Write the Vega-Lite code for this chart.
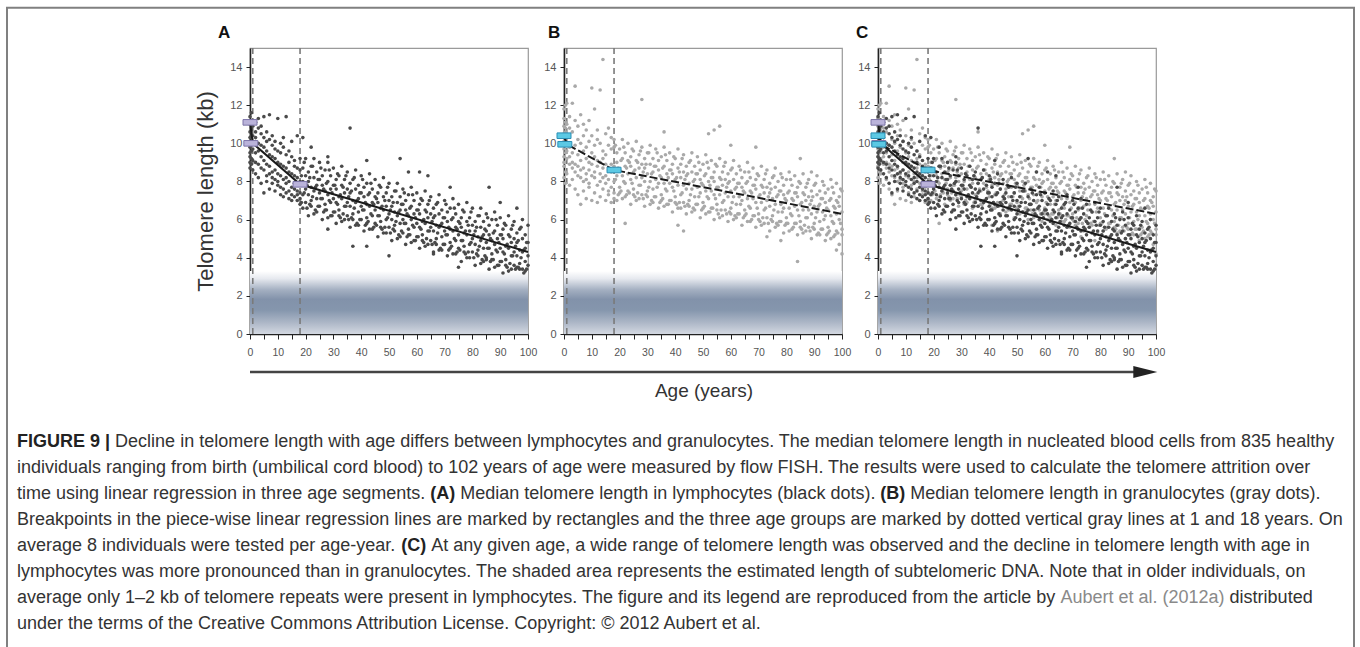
{
"$schema":"https://vega.github.io/schema/vega-lite/v6.json",
"background":"white",
"padding":{"left":6,"top":6,"right":0,"bottom":0},
"config":{"view":{"stroke":"#9a9a9a","strokeWidth":1.2},"font":"Liberation Sans","axis":{"grid":false,"domainColor":"#222","domainWidth":1.6,"tickColor":"#222","labelColor":"#555","labelFontSize":11,"titleFontWeight":"normal"}},
"datasets":{
"cuts":[{"a":1,"t":0,"t2":15},{"a":18,"t":0,"t2":15}],
"lymfit":[{"a":0,"t":11.1},{"a":1,"t":10.0},{"a":18,"t":7.85},{"a":100,"t":4.3}],
"grafit":[{"a":0,"t":10.4},{"a":1,"t":9.95},{"a":18,"t":8.6},{"a":100,"t":6.3}],
"lymbp":[{"a":0,"t":11.1},{"a":0.3,"t":10.0},{"a":18,"t":7.85}],
"grabp":[{"a":0,"t":10.4},{"a":0.3,"t":9.95},{"a":18,"t":8.6}],
"lym":[
{"a":0,"t":9.0},{"a":0,"t":9.5},{"a":0,"t":10.1},{"a":0,"t":10.6},{"a":0,"t":11.0},{"a":0,"t":9.8},{"a":0,"t":8.7},{"a":0,"t":10.3},{"a":0,"t":11.4},{"a":0,"t":9.3},
{"a":0.5,"t":10.8},{"a":0.5,"t":9.6},{"a":0.5,"t":10.4},{"a":0.5,"t":8.9},{"a":0.5,"t":11.2},{"a":0.5,"t":9.9},{"a":0.5,"t":10.0},{"a":0.5,"t":9.2},{"a":0.5,"t":10.7},{"a":0.5,"t":11.6},
{"a":1,"t":11.2},{"a":1,"t":9.1},{"a":1,"t":10.4},{"a":1,"t":8.6},{"a":1,"t":10.9},{"a":1,"t":9.7},
{"a":2,"t":11.1},{"a":2,"t":9.0},{"a":2,"t":10.3},{"a":2,"t":8.4},{"a":2,"t":10.6},{"a":2,"t":9.5},
{"a":3,"t":10.8},{"a":3,"t":8.9},{"a":3,"t":10.0},{"a":3,"t":8.2},{"a":3,"t":11.3},{"a":3,"t":9.6},
{"a":4,"t":10.5},{"a":4,"t":8.7},{"a":4,"t":9.9},{"a":4,"t":7.9},{"a":4,"t":10.9},{"a":4,"t":9.3},
{"a":5,"t":11.4},{"a":5,"t":8.6},{"a":5,"t":9.8},{"a":5,"t":7.4},{"a":5,"t":10.3},{"a":5,"t":9.1},
{"a":6,"t":10.6},{"a":6,"t":8.3},{"a":6,"t":9.6},{"a":6,"t":8.0},{"a":6,"t":10.1},{"a":6,"t":8.9},
{"a":7,"t":11.5},{"a":7,"t":8.4},{"a":7,"t":9.4},{"a":7,"t":7.6},{"a":7,"t":10.2},{"a":7,"t":8.8},
{"a":8,"t":10.4},{"a":8,"t":7.9},{"a":8,"t":9.3},{"a":8,"t":8.5},{"a":8,"t":9.9},{"a":8,"t":8.2},
{"a":9,"t":10.1},{"a":9,"t":8.1},{"a":9,"t":9.2},{"a":9,"t":7.5},{"a":9,"t":9.7},{"a":9,"t":8.6},
{"a":10,"t":11.3},{"a":10,"t":8.0},{"a":10,"t":9.0},{"a":10,"t":7.8},{"a":10,"t":9.6},{"a":10,"t":8.4},
{"a":11,"t":10.0},{"a":11,"t":7.7},{"a":11,"t":8.9},{"a":11,"t":8.3},{"a":11,"t":9.5},{"a":11,"t":7.3},
{"a":12,"t":9.8},{"a":12,"t":7.6},{"a":12,"t":8.8},{"a":12,"t":8.1},{"a":12,"t":10.3},{"a":12,"t":7.2},
{"a":13,"t":11.4},{"a":13,"t":7.4},{"a":13,"t":8.7},{"a":13,"t":7.9},{"a":13,"t":9.4},{"a":13,"t":8.2},
{"a":14,"t":9.6},{"a":14,"t":7.5},{"a":14,"t":8.5},{"a":14,"t":7.1},{"a":14,"t":9.0},{"a":14,"t":8.0},
{"a":15,"t":9.3},{"a":15,"t":7.3},{"a":15,"t":8.4},{"a":15,"t":7.7},{"a":15,"t":10.1},{"a":15,"t":7.0},
{"a":16,"t":9.1},{"a":16,"t":7.2},{"a":16,"t":8.3},{"a":16,"t":7.6},{"a":16,"t":8.8},{"a":16,"t":7.9},
{"a":17,"t":10.4},{"a":17,"t":7.0},{"a":17,"t":8.2},{"a":17,"t":7.5},{"a":17,"t":8.7},{"a":17,"t":7.3},
{"a":18,"t":9.2},{"a":18,"t":6.8},{"a":18,"t":8.0},{"a":18,"t":7.4},{"a":18,"t":8.6},{"a":18,"t":7.1},
{"a":19,"t":8.7},{"a":19,"t":7.3},{"a":19,"t":8.0},{"a":19,"t":6.6},{"a":19,"t":10.3},
{"a":20,"t":9.2},{"a":20,"t":7.6},{"a":20,"t":6.9},{"a":20,"t":8.3},
{"a":21,"t":8.0},{"a":21,"t":6.2},{"a":21,"t":8.5},{"a":21,"t":7.3},
{"a":22,"t":8.8},{"a":22,"t":7.0},{"a":22,"t":7.7},{"a":22,"t":6.7},{"a":22,"t":9.8},
{"a":23,"t":8.2},{"a":23,"t":6.3},{"a":23,"t":9.2},{"a":23,"t":7.5},
{"a":24,"t":8.5},{"a":24,"t":7.1},{"a":24,"t":7.8},{"a":24,"t":6.4},
{"a":25,"t":9.0},{"a":25,"t":7.4},{"a":25,"t":6.7},{"a":25,"t":8.1},
{"a":26,"t":7.8},{"a":26,"t":6.0},{"a":26,"t":8.3},{"a":26,"t":7.1},
{"a":27,"t":8.6},{"a":27,"t":6.8},{"a":27,"t":7.5},{"a":27,"t":6.5},
{"a":28,"t":8.0},{"a":28,"t":6.1},{"a":28,"t":9.0},{"a":28,"t":7.3},{"a":28,"t":9.3},{"a":28,"t":5.5},
{"a":29,"t":8.3},{"a":29,"t":6.9},{"a":29,"t":7.6},{"a":29,"t":6.2},
{"a":30,"t":8.7},{"a":30,"t":7.1},{"a":30,"t":6.4},{"a":30,"t":7.8},
{"a":31,"t":7.6},{"a":31,"t":5.8},{"a":31,"t":8.1},{"a":31,"t":6.9},
{"a":32,"t":8.3},{"a":32,"t":6.5},{"a":32,"t":7.2},{"a":32,"t":6.2},
{"a":33,"t":7.8},{"a":33,"t":5.9},{"a":33,"t":8.8},{"a":33,"t":7.1},
{"a":34,"t":8.1},{"a":34,"t":6.7},{"a":34,"t":7.4},{"a":34,"t":6.0},
{"a":35,"t":8.5},{"a":35,"t":6.9},{"a":35,"t":6.2},{"a":35,"t":7.6},
{"a":36,"t":7.4},{"a":36,"t":5.6},{"a":36,"t":7.9},{"a":36,"t":6.7},{"a":36,"t":10.8},
{"a":37,"t":8.1},{"a":37,"t":6.3},{"a":37,"t":7.0},{"a":37,"t":6.0},{"a":37,"t":4.6},
{"a":38,"t":7.6},{"a":38,"t":5.7},{"a":38,"t":8.6},{"a":38,"t":6.9},
{"a":39,"t":7.8},{"a":39,"t":6.4},{"a":39,"t":7.1},{"a":39,"t":5.7},
{"a":40,"t":8.3},{"a":40,"t":6.7},{"a":40,"t":6.0},{"a":40,"t":7.4},
{"a":41,"t":7.2},{"a":41,"t":5.4},{"a":41,"t":7.7},{"a":41,"t":6.5},
{"a":42,"t":7.9},{"a":42,"t":6.1},{"a":42,"t":6.8},{"a":42,"t":5.8},{"a":42,"t":9.1},{"a":42,"t":4.6},
{"a":43,"t":7.4},{"a":43,"t":5.5},{"a":43,"t":8.4},{"a":43,"t":6.7},
{"a":44,"t":7.6},{"a":44,"t":6.2},{"a":44,"t":6.9},{"a":44,"t":5.5},
{"a":45,"t":8.1},{"a":45,"t":6.5},{"a":45,"t":5.8},{"a":45,"t":7.2},
{"a":46,"t":6.9},{"a":46,"t":5.1},{"a":46,"t":7.4},{"a":46,"t":6.2},
{"a":47,"t":7.7},{"a":47,"t":5.9},{"a":47,"t":6.6},{"a":47,"t":5.6},
{"a":48,"t":7.2},{"a":48,"t":5.3},{"a":48,"t":8.2},{"a":48,"t":6.5},
{"a":49,"t":7.4},{"a":49,"t":6.0},{"a":49,"t":6.7},{"a":49,"t":5.3},
{"a":50,"t":7.9},{"a":50,"t":6.3},{"a":50,"t":5.6},{"a":50,"t":7.0},{"a":50,"t":4.1},
{"a":51,"t":6.7},{"a":51,"t":4.9},{"a":51,"t":7.2},{"a":51,"t":6.0},
{"a":52,"t":7.5},{"a":52,"t":5.7},{"a":52,"t":6.4},{"a":52,"t":5.4},
{"a":53,"t":6.9},{"a":53,"t":5.0},{"a":53,"t":7.9},{"a":53,"t":6.2},
{"a":54,"t":7.2},{"a":54,"t":5.8},{"a":54,"t":6.5},{"a":54,"t":5.1},{"a":54,"t":9.2},
{"a":55,"t":7.6},{"a":55,"t":6.0},{"a":55,"t":5.3},{"a":55,"t":6.8},
{"a":56,"t":6.5},{"a":56,"t":4.7},{"a":56,"t":7.0},{"a":56,"t":5.8},
{"a":57,"t":7.3},{"a":57,"t":5.5},{"a":57,"t":6.2},{"a":57,"t":5.2},{"a":57,"t":8.5},
{"a":58,"t":6.7},{"a":58,"t":4.8},{"a":58,"t":7.7},{"a":58,"t":6.0},
{"a":59,"t":7.0},{"a":59,"t":5.6},{"a":59,"t":6.3},{"a":59,"t":4.9},
{"a":60,"t":7.4},{"a":60,"t":5.8},{"a":60,"t":5.1},{"a":60,"t":6.5},
{"a":61,"t":6.3},{"a":61,"t":4.5},{"a":61,"t":6.8},{"a":61,"t":5.6},{"a":61,"t":8.5},
{"a":62,"t":7.0},{"a":62,"t":5.2},{"a":62,"t":5.9},{"a":62,"t":4.9},
{"a":63,"t":6.5},{"a":63,"t":4.6},{"a":63,"t":7.5},{"a":63,"t":5.8},
{"a":64,"t":6.8},{"a":64,"t":5.4},{"a":64,"t":6.1},{"a":64,"t":4.7},{"a":64,"t":8.3},
{"a":65,"t":7.2},{"a":65,"t":5.6},{"a":65,"t":4.9},{"a":65,"t":6.3},
{"a":66,"t":6.1},{"a":66,"t":4.3},{"a":66,"t":6.6},{"a":66,"t":5.4},{"a":66,"t":4.2},
{"a":67,"t":6.8},{"a":67,"t":5.0},{"a":67,"t":5.7},{"a":67,"t":4.7},
{"a":68,"t":6.3},{"a":68,"t":4.4},{"a":68,"t":7.3},{"a":68,"t":5.6},
{"a":69,"t":6.5},{"a":69,"t":5.1},{"a":69,"t":5.8},{"a":69,"t":4.4},
{"a":70,"t":7.0},{"a":70,"t":5.4},{"a":70,"t":4.7},{"a":70,"t":6.1},
{"a":71,"t":5.9},{"a":71,"t":4.1},{"a":71,"t":6.4},{"a":71,"t":5.2},
{"a":72,"t":6.6},{"a":72,"t":4.8},{"a":72,"t":5.5},{"a":72,"t":4.5},{"a":72,"t":7.7},
{"a":73,"t":6.1},{"a":73,"t":4.2},{"a":73,"t":7.1},{"a":73,"t":5.4},
{"a":74,"t":6.3},{"a":74,"t":4.9},{"a":74,"t":5.6},{"a":74,"t":4.2},
{"a":75,"t":6.8},{"a":75,"t":5.2},{"a":75,"t":4.5},{"a":75,"t":5.9},{"a":75,"t":3.5},
{"a":76,"t":5.6},{"a":76,"t":3.8},{"a":76,"t":6.1},{"a":76,"t":4.9},
{"a":77,"t":6.4},{"a":77,"t":4.6},{"a":77,"t":5.3},{"a":77,"t":4.3},
{"a":78,"t":5.9},{"a":78,"t":4.0},{"a":78,"t":6.9},{"a":78,"t":5.2},
{"a":79,"t":6.1},{"a":79,"t":4.7},{"a":79,"t":5.4},{"a":79,"t":4.0},
{"a":80,"t":6.6},{"a":80,"t":5.0},{"a":80,"t":4.3},{"a":80,"t":5.7},
{"a":81,"t":5.4},{"a":81,"t":3.6},{"a":81,"t":5.9},{"a":81,"t":4.7},
{"a":82,"t":6.2},{"a":82,"t":4.4},{"a":82,"t":5.1},{"a":82,"t":4.1},
{"a":83,"t":5.6},{"a":83,"t":3.7},{"a":83,"t":6.6},{"a":83,"t":4.9},
{"a":84,"t":5.9},{"a":84,"t":4.5},{"a":84,"t":5.2},{"a":84,"t":3.8},
{"a":85,"t":6.3},{"a":85,"t":4.8},{"a":85,"t":4.0},{"a":85,"t":5.4},{"a":85,"t":3.9},
{"a":86,"t":5.2},{"a":86,"t":3.4},{"a":86,"t":5.7},{"a":86,"t":4.5},{"a":86,"t":7.7},
{"a":87,"t":6.0},{"a":87,"t":4.2},{"a":87,"t":4.9},{"a":87,"t":3.9},
{"a":88,"t":5.4},{"a":88,"t":3.5},{"a":88,"t":6.4},{"a":88,"t":4.7},
{"a":89,"t":5.7},{"a":89,"t":4.3},{"a":89,"t":5.0},{"a":89,"t":3.6},
{"a":90,"t":6.1},{"a":90,"t":4.5},{"a":90,"t":3.8},{"a":90,"t":5.2},{"a":90,"t":6.9},
{"a":91,"t":5.0},{"a":91,"t":3.2},{"a":91,"t":5.5},{"a":91,"t":4.3},
{"a":92,"t":5.7},{"a":92,"t":3.9},{"a":92,"t":4.6},{"a":92,"t":3.6},
{"a":93,"t":5.2},{"a":93,"t":3.3},{"a":93,"t":6.2},{"a":93,"t":4.5},
{"a":94,"t":5.5},{"a":94,"t":4.1},{"a":94,"t":4.8},{"a":94,"t":3.4},
{"a":95,"t":5.9},{"a":95,"t":4.3},{"a":95,"t":3.6},{"a":95,"t":5.0},
{"a":96,"t":4.8},{"a":96,"t":3.5},{"a":96,"t":5.3},{"a":96,"t":4.1},{"a":96,"t":6.6},
{"a":97,"t":5.5},{"a":97,"t":3.7},{"a":97,"t":4.4},{"a":97,"t":3.4},
{"a":98,"t":5.0},{"a":98,"t":3.4},{"a":98,"t":6.0},{"a":98,"t":4.3},
{"a":99,"t":5.2},{"a":99,"t":3.8},{"a":99,"t":4.5},{"a":99,"t":3.3},
{"a":100,"t":5.7},{"a":100,"t":4.1},{"a":100,"t":3.6},{"a":100,"t":4.8},
{"a":18.5,"t":8.3},{"a":18.5,"t":6.9},{"a":19.5,"t":9.0},{"a":19.5,"t":7.4},{"a":20.5,"t":6.6},{"a":20.5,"t":7.8},{"a":21.5,"t":8.2},{"a":21.5,"t":6.8},{"a":22.5,"t":8.8},{"a":22.5,"t":7.2},
{"a":23.5,"t":6.5},{"a":23.5,"t":7.7},{"a":24.5,"t":8.1},{"a":24.5,"t":6.7},{"a":25.5,"t":8.7},{"a":25.5,"t":7.1},{"a":26.5,"t":6.4},{"a":26.5,"t":7.6},{"a":27.5,"t":7.9},{"a":27.5,"t":6.5},
{"a":28.5,"t":8.6},{"a":28.5,"t":7.0},{"a":29.5,"t":6.2},{"a":29.5,"t":7.4},{"a":30.5,"t":7.8},{"a":30.5,"t":6.4},{"a":31.5,"t":8.4},{"a":31.5,"t":6.8},{"a":32.5,"t":6.1},{"a":32.5,"t":7.3},
{"a":33.5,"t":7.7},{"a":33.5,"t":6.3},{"a":34.5,"t":8.3},{"a":34.5,"t":6.7},{"a":35.5,"t":6.0},{"a":35.5,"t":7.2},{"a":36.5,"t":7.5},{"a":36.5,"t":6.1},{"a":37.5,"t":8.2},{"a":37.5,"t":6.6},
{"a":38.5,"t":5.8},{"a":38.5,"t":7.0},{"a":39.5,"t":7.4},{"a":39.5,"t":6.0},{"a":40.5,"t":8.1},{"a":40.5,"t":6.5},{"a":41.5,"t":5.7},{"a":41.5,"t":6.9},{"a":42.5,"t":7.3},{"a":42.5,"t":5.9},
{"a":43.5,"t":7.9},{"a":43.5,"t":6.3},{"a":44.5,"t":5.6},{"a":44.5,"t":6.8},{"a":45.5,"t":7.1},{"a":45.5,"t":5.7},{"a":46.5,"t":7.8},{"a":46.5,"t":6.2},{"a":47.5,"t":5.5},{"a":47.5,"t":6.7},
{"a":48.5,"t":7.0},{"a":48.5,"t":5.6},{"a":49.5,"t":7.7},{"a":49.5,"t":6.1},{"a":50.5,"t":5.3},{"a":50.5,"t":6.5},{"a":51.5,"t":6.9},{"a":51.5,"t":5.5},{"a":52.5,"t":7.5},{"a":52.5,"t":5.9},
{"a":53.5,"t":5.2},{"a":53.5,"t":6.4},{"a":54.5,"t":6.8},{"a":54.5,"t":5.4},{"a":55.5,"t":7.4},{"a":55.5,"t":5.8},{"a":56.5,"t":5.1},{"a":56.5,"t":6.3},{"a":57.5,"t":6.6},{"a":57.5,"t":5.2},
{"a":58.5,"t":7.3},{"a":58.5,"t":5.7},{"a":59.5,"t":4.9},{"a":59.5,"t":6.1},{"a":60.5,"t":6.5},{"a":60.5,"t":5.1},{"a":61.5,"t":7.1},{"a":61.5,"t":5.5},{"a":62.5,"t":4.8},{"a":62.5,"t":6.0},
{"a":63.5,"t":6.4},{"a":63.5,"t":5.0},{"a":64.5,"t":7.0},{"a":64.5,"t":5.4},{"a":65.5,"t":4.7},{"a":65.5,"t":5.9},{"a":66.5,"t":6.2},{"a":66.5,"t":4.8},{"a":67.5,"t":6.9},{"a":67.5,"t":5.3},
{"a":68.5,"t":4.5},{"a":68.5,"t":5.7},{"a":69.5,"t":6.1},{"a":69.5,"t":4.7},{"a":70.5,"t":6.8},{"a":70.5,"t":5.2},{"a":71.5,"t":4.4},{"a":71.5,"t":5.6},{"a":72.5,"t":6.0},{"a":72.5,"t":4.6},
{"a":73.5,"t":6.6},{"a":73.5,"t":5.0},{"a":74.5,"t":4.3},{"a":74.5,"t":5.5},{"a":75.5,"t":5.8},{"a":75.5,"t":4.4},{"a":76.5,"t":6.5},{"a":76.5,"t":4.9},{"a":77.5,"t":4.2},{"a":77.5,"t":5.4},
{"a":78.5,"t":5.7},{"a":78.5,"t":4.3},{"a":79.5,"t":6.4},{"a":79.5,"t":4.8},{"a":80.5,"t":4.0},{"a":80.5,"t":5.2},{"a":81.5,"t":5.6},{"a":81.5,"t":4.2},{"a":82.5,"t":6.2},{"a":82.5,"t":4.6},
{"a":83.5,"t":3.9},{"a":83.5,"t":5.1},{"a":84.5,"t":5.5},{"a":84.5,"t":4.1},{"a":85.5,"t":6.1},{"a":85.5,"t":4.5},{"a":86.5,"t":3.8},{"a":86.5,"t":5.0},{"a":87.5,"t":5.3},{"a":87.5,"t":3.9},
{"a":88.5,"t":6.0},{"a":88.5,"t":4.4},{"a":89.5,"t":3.6},{"a":89.5,"t":4.8},{"a":90.5,"t":5.2},{"a":90.5,"t":3.8},{"a":91.5,"t":5.8},{"a":91.5,"t":4.2},{"a":92.5,"t":3.5},{"a":92.5,"t":4.7},
{"a":93.5,"t":5.1},{"a":93.5,"t":3.7},{"a":94.5,"t":5.7},{"a":94.5,"t":4.1},{"a":95.5,"t":3.4},{"a":95.5,"t":4.6},{"a":96.5,"t":4.9},{"a":96.5,"t":3.5},{"a":97.5,"t":5.6},{"a":97.5,"t":4.0},
{"a":98.5,"t":3.2},{"a":98.5,"t":4.4},{"a":99.5,"t":4.8},{"a":99.5,"t":3.4}
],
"gra":[
{"a":0,"t":8.2},{"a":0,"t":8.8},{"a":0,"t":9.3},{"a":0,"t":9.7},{"a":0,"t":10.1},{"a":0,"t":10.5},{"a":0,"t":10.9},{"a":0,"t":11.3},{"a":0,"t":11.8},{"a":0,"t":9.0},
{"a":0.5,"t":9.5},{"a":0.5,"t":10.0},{"a":0.5,"t":10.3},{"a":0.5,"t":10.8},{"a":0.5,"t":12.0},{"a":0.5,"t":8.5},{"a":0.5,"t":9.9},{"a":0.5,"t":10.6},{"a":0.5,"t":11.1},{"a":0.5,"t":7.9},
{"a":1,"t":11.0},{"a":1,"t":9.2},{"a":1,"t":10.3},{"a":1,"t":8.4},{"a":1,"t":12.1},{"a":1,"t":9.6},
{"a":2,"t":10.8},{"a":2,"t":8.9},{"a":2,"t":9.8},{"a":2,"t":7.8},{"a":2,"t":11.4},{"a":2,"t":9.3},
{"a":3,"t":12.1},{"a":3,"t":8.7},{"a":3,"t":9.5},{"a":3,"t":8.1},{"a":3,"t":10.6},{"a":3,"t":9.0},
{"a":4,"t":13.0},{"a":4,"t":8.5},{"a":4,"t":9.9},{"a":4,"t":7.6},{"a":4,"t":11.2},{"a":4,"t":8.9},
{"a":5,"t":10.9},{"a":5,"t":8.3},{"a":5,"t":9.4},{"a":5,"t":7.3},{"a":5,"t":10.2},{"a":5,"t":8.8},
{"a":6,"t":11.5},{"a":6,"t":8.6},{"a":6,"t":9.1},{"a":6,"t":6.8},{"a":6,"t":10.0},{"a":6,"t":8.2},
{"a":7,"t":10.4},{"a":7,"t":8.0},{"a":7,"t":9.6},{"a":7,"t":7.5},{"a":7,"t":11.0},{"a":7,"t":8.7},
{"a":8,"t":10.7},{"a":8,"t":8.4},{"a":8,"t":9.2},{"a":8,"t":7.1},{"a":8,"t":9.8},{"a":8,"t":8.1},
{"a":9,"t":11.2},{"a":9,"t":7.9},{"a":9,"t":9.0},{"a":9,"t":7.7},{"a":9,"t":10.1},{"a":9,"t":8.6},
{"a":10,"t":12.9},{"a":10,"t":7.0},{"a":10,"t":8.9},{"a":10,"t":8.3},{"a":10,"t":10.4},{"a":10,"t":9.5},
{"a":11,"t":11.8},{"a":11,"t":8.2},{"a":11,"t":9.3},{"a":11,"t":7.4},{"a":11,"t":9.9},{"a":11,"t":8.5},
{"a":12,"t":10.2},{"a":12,"t":7.8},{"a":12,"t":8.8},{"a":12,"t":6.9},{"a":12,"t":10.7},{"a":12,"t":9.1},
{"a":13,"t":12.8},{"a":13,"t":8.0},{"a":13,"t":9.0},{"a":13,"t":7.2},{"a":13,"t":10.0},{"a":13,"t":8.4},
{"a":14,"t":14.4},{"a":14,"t":7.6},{"a":14,"t":8.7},{"a":14,"t":8.2},{"a":14,"t":9.6},{"a":14,"t":9.2},
{"a":15,"t":10.5},{"a":15,"t":7.9},{"a":15,"t":8.9},{"a":15,"t":7.0},{"a":15,"t":9.4},{"a":15,"t":8.3},
{"a":16,"t":9.9},{"a":16,"t":7.5},{"a":16,"t":8.6},{"a":16,"t":8.1},{"a":16,"t":10.8},{"a":16,"t":7.3},
{"a":17,"t":10.3},{"a":17,"t":7.7},{"a":17,"t":8.5},{"a":17,"t":6.9},{"a":17,"t":9.7},{"a":17,"t":8.9},
{"a":18,"t":9.8},{"a":18,"t":7.4},{"a":18,"t":8.8},{"a":18,"t":8.0},{"a":18,"t":10.2},{"a":18,"t":7.1},
{"a":19,"t":9.0},{"a":19,"t":7.0},{"a":19,"t":9.5},{"a":19,"t":8.3},
{"a":20,"t":9.7},{"a":20,"t":7.7},{"a":20,"t":8.6},{"a":20,"t":7.4},
{"a":21,"t":9.2},{"a":21,"t":7.1},{"a":21,"t":10.2},{"a":21,"t":8.3},
{"a":22,"t":9.5},{"a":22,"t":7.9},{"a":22,"t":8.8},{"a":22,"t":7.2},{"a":22,"t":5.8},
{"a":23,"t":10.0},{"a":23,"t":8.4},{"a":23,"t":7.5},{"a":23,"t":9.1},
{"a":24,"t":8.8},{"a":24,"t":6.8},{"a":24,"t":9.3},{"a":24,"t":8.1},
{"a":25,"t":9.6},{"a":25,"t":7.6},{"a":25,"t":8.5},{"a":25,"t":7.3},
{"a":26,"t":9.1},{"a":26,"t":7.0},{"a":26,"t":10.1},{"a":26,"t":8.2},
{"a":27,"t":9.4},{"a":27,"t":7.8},{"a":27,"t":8.7},{"a":27,"t":7.1},
{"a":28,"t":9.8},{"a":28,"t":8.2},{"a":28,"t":7.3},{"a":28,"t":8.9},{"a":28,"t":12.3},
{"a":29,"t":8.7},{"a":29,"t":6.7},{"a":29,"t":9.2},{"a":29,"t":8.0},
{"a":30,"t":9.5},{"a":30,"t":7.5},{"a":30,"t":8.4},{"a":30,"t":7.2},
{"a":31,"t":8.9},{"a":31,"t":6.8},{"a":31,"t":9.9},{"a":31,"t":8.0},
{"a":32,"t":9.2},{"a":32,"t":7.6},{"a":32,"t":8.5},{"a":32,"t":6.9},
{"a":33,"t":9.7},{"a":33,"t":8.1},{"a":33,"t":7.2},{"a":33,"t":8.8},
{"a":34,"t":8.6},{"a":34,"t":6.6},{"a":34,"t":9.1},{"a":34,"t":7.9},
{"a":35,"t":9.3},{"a":35,"t":7.3},{"a":35,"t":8.2},{"a":35,"t":7.0},
{"a":36,"t":8.8},{"a":36,"t":6.7},{"a":36,"t":9.8},{"a":36,"t":7.9},{"a":36,"t":10.6},
{"a":37,"t":9.1},{"a":37,"t":7.5},{"a":37,"t":8.4},{"a":37,"t":6.8},
{"a":38,"t":9.5},{"a":38,"t":7.9},{"a":38,"t":7.0},{"a":38,"t":8.6},
{"a":39,"t":8.4},{"a":39,"t":6.4},{"a":39,"t":8.9},{"a":39,"t":7.7},
{"a":40,"t":9.2},{"a":40,"t":7.2},{"a":40,"t":8.1},{"a":40,"t":6.9},
{"a":41,"t":8.7},{"a":41,"t":6.6},{"a":41,"t":9.7},{"a":41,"t":7.8},{"a":41,"t":5.7},
{"a":42,"t":8.9},{"a":42,"t":7.3},{"a":42,"t":8.2},{"a":42,"t":6.6},
{"a":43,"t":9.4},{"a":43,"t":7.8},{"a":43,"t":6.9},{"a":43,"t":8.5},{"a":43,"t":5.4},
{"a":44,"t":8.3},{"a":44,"t":6.3},{"a":44,"t":8.8},{"a":44,"t":7.6},
{"a":45,"t":9.0},{"a":45,"t":7.0},{"a":45,"t":7.9},{"a":45,"t":6.7},
{"a":46,"t":8.5},{"a":46,"t":6.4},{"a":46,"t":9.5},{"a":46,"t":7.6},
{"a":47,"t":8.8},{"a":47,"t":7.2},{"a":47,"t":8.1},{"a":47,"t":6.5},
{"a":48,"t":9.3},{"a":48,"t":7.7},{"a":48,"t":6.8},{"a":48,"t":8.4},
{"a":49,"t":8.1},{"a":49,"t":6.1},{"a":49,"t":8.6},{"a":49,"t":7.4},
{"a":50,"t":8.9},{"a":50,"t":6.9},{"a":50,"t":7.8},{"a":50,"t":6.6},
{"a":51,"t":8.4},{"a":51,"t":6.3},{"a":51,"t":9.4},{"a":51,"t":7.5},
{"a":52,"t":8.7},{"a":52,"t":7.1},{"a":52,"t":8.0},{"a":52,"t":6.4},{"a":52,"t":10.5},
{"a":53,"t":9.1},{"a":53,"t":7.5},{"a":53,"t":6.6},{"a":53,"t":8.2},
{"a":54,"t":8.0},{"a":54,"t":6.0},{"a":54,"t":8.5},{"a":54,"t":7.3},{"a":54,"t":10.7},
{"a":55,"t":8.8},{"a":55,"t":6.8},{"a":55,"t":7.7},{"a":55,"t":6.5},
{"a":56,"t":8.2},{"a":56,"t":6.1},{"a":56,"t":9.2},{"a":56,"t":7.3},{"a":56,"t":10.9},
{"a":57,"t":8.5},{"a":57,"t":6.9},{"a":57,"t":7.8},{"a":57,"t":6.2},
{"a":58,"t":9.0},{"a":58,"t":7.4},{"a":58,"t":6.5},{"a":58,"t":8.1},
{"a":59,"t":7.9},{"a":59,"t":5.9},{"a":59,"t":8.4},{"a":59,"t":7.2},
{"a":60,"t":8.6},{"a":60,"t":6.6},{"a":60,"t":7.5},{"a":60,"t":6.3},{"a":60,"t":9.9},
{"a":61,"t":8.1},{"a":61,"t":6.0},{"a":61,"t":9.1},{"a":61,"t":7.2},
{"a":62,"t":8.4},{"a":62,"t":6.8},{"a":62,"t":7.7},{"a":62,"t":6.1},
{"a":63,"t":8.8},{"a":63,"t":7.2},{"a":63,"t":6.3},{"a":63,"t":7.9},
{"a":64,"t":7.7},{"a":64,"t":5.7},{"a":64,"t":8.2},{"a":64,"t":7.0},
{"a":65,"t":8.5},{"a":65,"t":6.5},{"a":65,"t":7.4},{"a":65,"t":6.2},
{"a":66,"t":8.0},{"a":66,"t":5.9},{"a":66,"t":9.0},{"a":66,"t":7.1},
{"a":67,"t":8.2},{"a":67,"t":6.6},{"a":67,"t":7.5},{"a":67,"t":5.9},
{"a":68,"t":8.7},{"a":68,"t":7.1},{"a":68,"t":6.2},{"a":68,"t":7.8},
{"a":69,"t":7.6},{"a":69,"t":5.6},{"a":69,"t":8.1},{"a":69,"t":6.9},{"a":69,"t":9.8},
{"a":70,"t":8.3},{"a":70,"t":6.3},{"a":70,"t":7.2},{"a":70,"t":6.0},
{"a":71,"t":7.8},{"a":71,"t":5.7},{"a":71,"t":8.8},{"a":71,"t":6.9},
{"a":72,"t":8.1},{"a":72,"t":6.5},{"a":72,"t":7.4},{"a":72,"t":5.8},
{"a":73,"t":8.6},{"a":73,"t":7.0},{"a":73,"t":6.1},{"a":73,"t":7.7},{"a":73,"t":5.1},
{"a":74,"t":7.4},{"a":74,"t":5.4},{"a":74,"t":7.9},{"a":74,"t":6.7},
{"a":75,"t":8.2},{"a":75,"t":6.2},{"a":75,"t":7.1},{"a":75,"t":5.9},
{"a":76,"t":7.7},{"a":76,"t":5.6},{"a":76,"t":8.7},{"a":76,"t":6.8},
{"a":77,"t":8.0},{"a":77,"t":6.4},{"a":77,"t":7.3},{"a":77,"t":5.7},
{"a":78,"t":8.4},{"a":78,"t":6.8},{"a":78,"t":5.9},{"a":78,"t":7.5},{"a":78,"t":4.9},
{"a":79,"t":7.3},{"a":79,"t":5.3},{"a":79,"t":7.8},{"a":79,"t":6.6},
{"a":80,"t":8.1},{"a":80,"t":6.1},{"a":80,"t":7.0},{"a":80,"t":5.8},
{"a":81,"t":7.5},{"a":81,"t":5.4},{"a":81,"t":8.5},{"a":81,"t":6.6},
{"a":82,"t":7.8},{"a":82,"t":6.2},{"a":82,"t":7.1},{"a":82,"t":5.5},
{"a":83,"t":8.3},{"a":83,"t":6.7},{"a":83,"t":5.8},{"a":83,"t":7.4},
{"a":84,"t":7.2},{"a":84,"t":5.2},{"a":84,"t":7.7},{"a":84,"t":6.5},{"a":84,"t":3.8},
{"a":85,"t":7.9},{"a":85,"t":5.9},{"a":85,"t":6.8},{"a":85,"t":5.6},{"a":85,"t":9.2},
{"a":86,"t":7.4},{"a":86,"t":5.3},{"a":86,"t":8.4},{"a":86,"t":6.5},
{"a":87,"t":7.7},{"a":87,"t":6.1},{"a":87,"t":7.0},{"a":87,"t":5.4},
{"a":88,"t":8.1},{"a":88,"t":6.5},{"a":88,"t":5.6},{"a":88,"t":7.2},
{"a":89,"t":7.0},{"a":89,"t":5.0},{"a":89,"t":7.5},{"a":89,"t":6.3},{"a":89,"t":8.5},
{"a":90,"t":7.8},{"a":90,"t":5.8},{"a":90,"t":6.7},{"a":90,"t":5.5},
{"a":91,"t":7.3},{"a":91,"t":5.2},{"a":91,"t":8.3},{"a":91,"t":6.4},
{"a":92,"t":7.5},{"a":92,"t":5.9},{"a":92,"t":6.8},{"a":92,"t":5.2},
{"a":93,"t":8.0},{"a":93,"t":6.4},{"a":93,"t":5.5},{"a":93,"t":7.1},
{"a":94,"t":6.9},{"a":94,"t":4.9},{"a":94,"t":7.4},{"a":94,"t":6.2},
{"a":95,"t":7.6},{"a":95,"t":5.6},{"a":95,"t":6.5},{"a":95,"t":5.3},
{"a":96,"t":7.1},{"a":96,"t":5.0},{"a":96,"t":8.1},{"a":96,"t":6.2},
{"a":97,"t":7.4},{"a":97,"t":5.8},{"a":97,"t":6.7},{"a":97,"t":5.1},
{"a":98,"t":7.9},{"a":98,"t":6.3},{"a":98,"t":5.4},{"a":98,"t":7.0},{"a":98,"t":4.4},
{"a":99,"t":6.7},{"a":99,"t":4.7},{"a":99,"t":7.2},{"a":99,"t":6.0},
{"a":100,"t":7.5},{"a":100,"t":5.5},{"a":100,"t":6.4},{"a":100,"t":5.2},{"a":100,"t":4.2},
{"a":18.5,"t":9.9},{"a":18.5,"t":8.1},{"a":19.5,"t":7.3},{"a":19.5,"t":8.7},{"a":20.5,"t":9.1},{"a":20.5,"t":7.5},{"a":21.5,"t":9.8},{"a":21.5,"t":8.0},{"a":22.5,"t":7.3},{"a":22.5,"t":8.7},
{"a":23.5,"t":9.0},{"a":23.5,"t":7.4},{"a":24.5,"t":9.7},{"a":24.5,"t":7.9},{"a":25.5,"t":7.2},{"a":25.5,"t":8.6},{"a":26.5,"t":9.0},{"a":26.5,"t":7.4},{"a":27.5,"t":9.6},{"a":27.5,"t":7.8},
{"a":28.5,"t":7.1},{"a":28.5,"t":8.5},{"a":29.5,"t":8.9},{"a":29.5,"t":7.3},{"a":30.5,"t":9.5},{"a":30.5,"t":7.7},{"a":31.5,"t":7.0},{"a":31.5,"t":8.4},{"a":32.5,"t":8.8},{"a":32.5,"t":7.2},
{"a":33.5,"t":9.5},{"a":33.5,"t":7.7},{"a":34.5,"t":6.9},{"a":34.5,"t":8.3},{"a":35.5,"t":8.7},{"a":35.5,"t":7.1},{"a":36.5,"t":9.4},{"a":36.5,"t":7.6},{"a":37.5,"t":6.8},{"a":37.5,"t":8.2},
{"a":38.5,"t":8.6},{"a":38.5,"t":7.0},{"a":39.5,"t":9.3},{"a":39.5,"t":7.5},{"a":40.5,"t":6.8},{"a":40.5,"t":8.2},{"a":41.5,"t":8.5},{"a":41.5,"t":6.9},{"a":42.5,"t":9.2},{"a":42.5,"t":7.4},
{"a":43.5,"t":6.7},{"a":43.5,"t":8.1},{"a":44.5,"t":8.4},{"a":44.5,"t":6.8},{"a":45.5,"t":9.1},{"a":45.5,"t":7.3},{"a":46.5,"t":6.6},{"a":46.5,"t":8.0},{"a":47.5,"t":8.4},{"a":47.5,"t":6.8},
{"a":48.5,"t":9.0},{"a":48.5,"t":7.2},{"a":49.5,"t":6.5},{"a":49.5,"t":7.9},{"a":50.5,"t":8.3},{"a":50.5,"t":6.7},{"a":51.5,"t":9.0},{"a":51.5,"t":7.2},{"a":52.5,"t":6.4},{"a":52.5,"t":7.8},
{"a":53.5,"t":8.2},{"a":53.5,"t":6.6},{"a":54.5,"t":8.9},{"a":54.5,"t":7.1},{"a":55.5,"t":6.3},{"a":55.5,"t":7.7},{"a":56.5,"t":8.1},{"a":56.5,"t":6.5},{"a":57.5,"t":8.8},{"a":57.5,"t":7.0},
{"a":58.5,"t":6.3},{"a":58.5,"t":7.7},{"a":59.5,"t":8.0},{"a":59.5,"t":6.4},{"a":60.5,"t":8.7},{"a":60.5,"t":6.9},{"a":61.5,"t":6.2},{"a":61.5,"t":7.6},{"a":62.5,"t":7.9},{"a":62.5,"t":6.3},
{"a":63.5,"t":8.6},{"a":63.5,"t":6.8},{"a":64.5,"t":6.1},{"a":64.5,"t":7.5},{"a":65.5,"t":7.9},{"a":65.5,"t":6.3},{"a":66.5,"t":8.5},{"a":66.5,"t":6.7},{"a":67.5,"t":6.0},{"a":67.5,"t":7.4},
{"a":68.5,"t":7.8},{"a":68.5,"t":6.2},{"a":69.5,"t":8.4},{"a":69.5,"t":6.6},{"a":70.5,"t":5.9},{"a":70.5,"t":7.3},{"a":71.5,"t":7.7},{"a":71.5,"t":6.1},{"a":72.5,"t":8.4},{"a":72.5,"t":6.6},
{"a":73.5,"t":5.8},{"a":73.5,"t":7.2},{"a":74.5,"t":7.6},{"a":74.5,"t":6.0},{"a":75.5,"t":8.3},{"a":75.5,"t":6.5},{"a":76.5,"t":5.8},{"a":76.5,"t":7.2},{"a":77.5,"t":7.5},{"a":77.5,"t":5.9},
{"a":78.5,"t":8.2},{"a":78.5,"t":6.4},{"a":79.5,"t":5.7},{"a":79.5,"t":7.1},{"a":80.5,"t":7.4},{"a":80.5,"t":5.8},{"a":81.5,"t":8.1},{"a":81.5,"t":6.3},{"a":82.5,"t":5.6},{"a":82.5,"t":7.0},
{"a":83.5,"t":7.4},{"a":83.5,"t":5.8},{"a":84.5,"t":8.0},{"a":84.5,"t":6.2},{"a":85.5,"t":5.5},{"a":85.5,"t":6.9},{"a":86.5,"t":7.3},{"a":86.5,"t":5.7},{"a":87.5,"t":7.9},{"a":87.5,"t":6.1},
{"a":88.5,"t":5.4},{"a":88.5,"t":6.8},{"a":89.5,"t":7.2},{"a":89.5,"t":5.6},{"a":90.5,"t":7.9},{"a":90.5,"t":6.1},{"a":91.5,"t":5.3},{"a":91.5,"t":6.7},{"a":92.5,"t":7.1},{"a":92.5,"t":5.5},
{"a":93.5,"t":7.8},{"a":93.5,"t":6.0},{"a":94.5,"t":5.2},{"a":94.5,"t":6.6},{"a":95.5,"t":7.0},{"a":95.5,"t":5.4},{"a":96.5,"t":7.7},{"a":96.5,"t":5.9},{"a":97.5,"t":5.2},{"a":97.5,"t":6.6},
{"a":98.5,"t":6.9},{"a":98.5,"t":5.3},{"a":99.5,"t":7.6},{"a":99.5,"t":5.8}
],
"caption":[
{"line":1,"x":10,"k":"b","s":"FIGURE 9 |"},
{"line":1,"x":108.1,"k":"n","s":"Decline in telomere length with age differs between lymphocytes and granulocytes. The median telomere length in nucleated blood cells from 835 healthy"},
{"line":2,"x":10,"k":"n","s":"individuals ranging from birth (umbilical cord blood) to 102 years of age were measured by flow FISH. The results were used to calculate the telomere attrition over"},
{"line":3,"x":10,"k":"n","s":"time using linear regression in three age segments."},
{"line":3,"x":423.2,"k":"b","s":"(A)"},
{"line":3,"x":453.2,"k":"n","s":"Median telomere length in lymphocytes (black dots)."},
{"line":3,"x":873.3,"k":"b","s":"(B)"},
{"line":3,"x":903.3,"k":"n","s":"Median telomere length in granulocytes (gray dots)."},
{"line":4,"x":10,"k":"n","s":"Breakpoints in the piece-wise linear regression lines are marked by rectangles and the three age groups are marked by dotted vertical gray lines at 1 and 18 years. On"},
{"line":5,"x":10,"k":"n","s":"average 8 individuals were tested per age-year."},
{"line":5,"x":394.2,"k":"b","s":"(C)"},
{"line":5,"x":424.2,"k":"n","s":"At any given age, a wide range of telomere length was observed and the decline in telomere length with age in"},
{"line":6,"x":10,"k":"n","s":"lymphocytes was more pronounced than in granulocytes. The shaded area represents the estimated length of subtelomeric DNA. Note that in older individuals, on"},
{"line":7,"x":10,"k":"n","s":"average only 1–2 kb of telomere repeats were present in lymphocytes. The figure and its legend are reproduced from the article by"},
{"line":7,"x":1053.5,"k":"g","s":"Aubert et al. (2012a)"},
{"line":7,"x":1222.6,"k":"n","s":"distributed"},
{"line":8,"x":10,"k":"n","s":"under the terms of the Creative Commons Attribution License. Copyright: © 2012 Aubert et al."}
]
},
"bounds":"flush",
"spacing":321,
"vconcat":[
 {"bounds":"flush","spacing":36,"hconcat":[
  {"width":207,"height":286,"view":{"stroke":null},"data":{"values":[]},"mark":"point","encoding":{}},
  {"width":278,"height":286,
   "title":{"text":"A","anchor":"start","frame":"group","dx":-32,"offset":5,"fontSize":17,"fontWeight":"bold","color":"#111"},
   "encoding":{
    "x":{"field":"a","type":"quantitative","scale":{"domain":[0,100],"nice":false},"title":null,"axis":{"values":[0,5,10,15,20,25,30,35,40,45,50,55,60,65,70,75,80,85,90,95,100],"labelExpr":"datum.value % 10 == 0 ? datum.label : ''","labelFlush":false,"tickSize":5,"labelPadding":8,"labelFontSize":10.5}},
    "y":{"field":"t","type":"quantitative","scale":{"domain":[0,15],"nice":false},"title":"Telomere length (kb)","axis":{"values":[0,2,4,6,8,10,12,14],"labelFlush":false,"tickSize":4,"labelPadding":4,"titleFontSize":22,"titleColor":"#333","titlePadding":12}}
   },
   "layer":[
    {"data":{"values":[{"a":0,"a2":100,"t":0,"t2":3.3}]},"mark":{"type":"rect","fill":{"gradient":"linear","x1":0,"y1":0,"x2":0,"y2":1,"stops":[{"offset":0,"color":"#ffffff"},{"offset":0.12,"color":"#e6e9ef"},{"offset":0.3,"color":"#a3afc1"},{"offset":0.45,"color":"#8292aa"},{"offset":0.62,"color":"#8596ad"},{"offset":0.82,"color":"#adb7c7"},{"offset":1,"color":"#d3d8e1"}]}},"encoding":{"x2":{"field":"a2"},"y2":{"field":"t2"}}},
    {"data":{"name":"cuts"},"mark":{"type":"rule","color":"#7a7a7a","strokeWidth":1.6,"strokeDash":[6,4]},"encoding":{"y2":{"field":"t2"}}},
    {"data":{"name":"lym"},"mark":{"type":"circle","size":13,"color":"#4a4a4a","opacity":1}},
    {"data":{"name":"lymfit"},"mark":{"type":"line","color":"#1a1a1a","strokeWidth":2}},
    {"data":{"name":"lymbp"},"mark":{"type":"point","shape":"M-1,-0.4L1,-0.4L1,0.4L-1,0.4Z","size":196,"filled":true,"fill":"#bab3da","stroke":"#7d75a8","strokeWidth":1,"opacity":1}},
    {"data":{"values":[{"s":"n=835"}]},"mark":{"type":"text","align":"right","fontSize":18,"color":"#333"},"encoding":{"x":{"datum":97},"y":{"datum":14.1},"text":{"field":"s"}}}
   ]},
  {"width":278,"height":286,
   "title":{"text":"B","anchor":"start","frame":"group","dx":-16,"offset":5,"fontSize":17,"fontWeight":"bold","color":"#111"},
   "encoding":{
    "x":{"field":"a","type":"quantitative","scale":{"domain":[0,100],"nice":false},"title":null,"axis":{"values":[0,5,10,15,20,25,30,35,40,45,50,55,60,65,70,75,80,85,90,95,100],"labelExpr":"datum.value % 10 == 0 ? datum.label : ''","labelFlush":false,"tickSize":5,"labelPadding":8,"labelFontSize":10.5}},
    "y":{"field":"t","type":"quantitative","scale":{"domain":[0,15],"nice":false},"title":null,"axis":{"values":[0,2,4,6,8,10,12,14],"labelFlush":false,"tickSize":4,"labelPadding":4}}
   },
   "layer":[
    {"data":{"values":[{"a":0,"a2":100,"t":0,"t2":3.3}]},"mark":{"type":"rect","fill":{"gradient":"linear","x1":0,"y1":0,"x2":0,"y2":1,"stops":[{"offset":0,"color":"#ffffff"},{"offset":0.12,"color":"#e6e9ef"},{"offset":0.3,"color":"#a3afc1"},{"offset":0.45,"color":"#8292aa"},{"offset":0.62,"color":"#8596ad"},{"offset":0.82,"color":"#adb7c7"},{"offset":1,"color":"#d3d8e1"}]}},"encoding":{"x2":{"field":"a2"},"y2":{"field":"t2"}}},
    {"data":{"name":"cuts"},"mark":{"type":"rule","color":"#7a7a7a","strokeWidth":1.6,"strokeDash":[6,4]},"encoding":{"y2":{"field":"t2"}}},
    {"data":{"name":"gra"},"mark":{"type":"circle","size":13,"color":"#a9a9a9","opacity":1}},
    {"data":{"name":"grafit"},"mark":{"type":"line","color":"#1a1a1a","strokeWidth":2,"strokeDash":[8,3]}},
    {"data":{"name":"grabp"},"mark":{"type":"point","shape":"M-1,-0.4L1,-0.4L1,0.4L-1,0.4Z","size":196,"filled":true,"fill":"#5cc9e4","stroke":"#2b8fb5","strokeWidth":1,"opacity":1}},
    {"data":{"values":[{"s":"n=808"}]},"mark":{"type":"text","align":"right","fontSize":18,"color":"#333"},"encoding":{"x":{"datum":97},"y":{"datum":14.1},"text":{"field":"s"}}}
   ]},
  {"width":278,"height":286,
   "title":{"text":"C","anchor":"start","frame":"group","dx":-22,"offset":5,"fontSize":17,"fontWeight":"bold","color":"#111"},
   "encoding":{
    "x":{"field":"a","type":"quantitative","scale":{"domain":[0,100],"nice":false},"title":null,"axis":{"values":[0,5,10,15,20,25,30,35,40,45,50,55,60,65,70,75,80,85,90,95,100],"labelExpr":"datum.value % 10 == 0 ? datum.label : ''","labelFlush":false,"tickSize":5,"labelPadding":8,"labelFontSize":10.5}},
    "y":{"field":"t","type":"quantitative","scale":{"domain":[0,15],"nice":false},"title":null,"axis":{"values":[0,2,4,6,8,10,12,14],"labelFlush":false,"tickSize":4,"labelPadding":4}}
   },
   "layer":[
    {"data":{"values":[{"a":0,"a2":100,"t":0,"t2":3.3}]},"mark":{"type":"rect","fill":{"gradient":"linear","x1":0,"y1":0,"x2":0,"y2":1,"stops":[{"offset":0,"color":"#ffffff"},{"offset":0.12,"color":"#e6e9ef"},{"offset":0.3,"color":"#a3afc1"},{"offset":0.45,"color":"#8292aa"},{"offset":0.62,"color":"#8596ad"},{"offset":0.82,"color":"#adb7c7"},{"offset":1,"color":"#d3d8e1"}]}},"encoding":{"x2":{"field":"a2"},"y2":{"field":"t2"}}},
    {"data":{"name":"cuts"},"mark":{"type":"rule","color":"#7a7a7a","strokeWidth":1.6,"strokeDash":[6,4]},"encoding":{"y2":{"field":"t2"}}},
    {"data":{"name":"gra"},"mark":{"type":"circle","size":13,"color":"#a9a9a9","opacity":1}},
    {"data":{"name":"lym"},"mark":{"type":"circle","size":13,"color":"#4a4a4a","opacity":1}},
    {"data":{"name":"lymfit"},"mark":{"type":"line","color":"#1a1a1a","strokeWidth":2}},
    {"data":{"name":"grafit"},"mark":{"type":"line","color":"#1a1a1a","strokeWidth":2,"strokeDash":[8,3]}},
    {"data":{"name":"lymbp"},"mark":{"type":"point","shape":"M-1,-0.4L1,-0.4L1,0.4L-1,0.4Z","size":196,"filled":true,"fill":"#bab3da","stroke":"#7d75a8","strokeWidth":1,"opacity":1}},
    {"data":{"name":"grabp"},"mark":{"type":"point","shape":"M-1,-0.4L1,-0.4L1,0.4L-1,0.4Z","size":196,"filled":true,"fill":"#5cc9e4","stroke":"#2b8fb5","strokeWidth":1,"opacity":1}},
    {"data":{"values":[{"s":"overlay"}]},"mark":{"type":"text","align":"right","fontSize":18,"color":"#333"},"encoding":{"x":{"datum":97},"y":{"datum":14.1},"text":{"field":"s"}}}
   ]}
 ]},
 {"bounds":"flush","spacing":41,"vconcat":[
  {"bounds":"flush","spacing":36,"hconcat":[
   {"width":207,"height":6,"view":{"stroke":null},"data":{"values":[]},"mark":"point","encoding":{}},
   {"width":908,"height":6,"view":{"stroke":null},"data":{"values":[{"s":0,"e":0.986}]},
    "title":{"text":"Age (years)","orient":"bottom","anchor":"middle","offset":4,"fontSize":19,"fontWeight":"normal","color":"#333"},
    "encoding":{"x":{"field":"s","type":"quantitative","scale":{"domain":[0,1],"nice":false},"axis":null}},
    "layer":[
     {"mark":{"type":"rule","color":"#444","strokeWidth":2.6},"encoding":{"x2":{"field":"e"}}},
     {"mark":{"type":"point","shape":"M-1,-0.5L1,0L-1,0.5Z","size":576,"filled":true,"color":"#222","opacity":1},"encoding":{"x":{"field":"e","type":"quantitative","axis":null}}}
    ]}
  ]},
  {"width":1347,"height":238,"view":{"stroke":null},
   "encoding":{
    "x":{"field":"x","type":"quantitative","scale":{"domain":[0,1347],"nice":false,"zero":false},"axis":null},
    "y":{"field":"line","type":"quantitative","scale":{"domain":[-0.23,8.92],"nice":false,"zero":false,"reverse":true},"axis":null}
   },
   "layer":[
    {"data":{"values":[{"x":0,"x2":1347,"line":-15.69,"line2":9.6}]},"mark":{"type":"rect","fill":"white","fillOpacity":0,"stroke":"#808080","strokeWidth":2},"encoding":{"x2":{"field":"x2"},"y2":{"field":"line2"}}},
    {"data":{"name":"caption"},"transform":[{"filter":"datum.k == 'n'"}],"mark":{"type":"text","align":"left","baseline":"middle","fontSize":18,"color":"#333"},"encoding":{"text":{"field":"s"}}},
    {"data":{"name":"caption"},"transform":[{"filter":"datum.k == 'b'"}],"mark":{"type":"text","align":"left","baseline":"middle","fontSize":18,"fontWeight":"bold","color":"#222"},"encoding":{"text":{"field":"s"}}},
    {"data":{"name":"caption"},"transform":[{"filter":"datum.k == 'g'"}],"mark":{"type":"text","align":"left","baseline":"middle","fontSize":18,"color":"#8a8a8a"},"encoding":{"text":{"field":"s"}}}
   ]}
 ]}
]
}
